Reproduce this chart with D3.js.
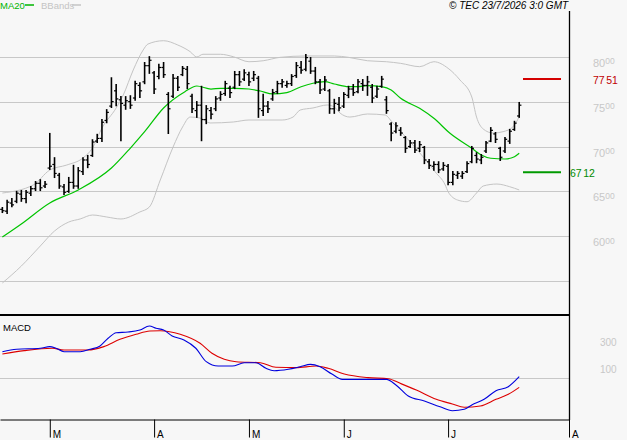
<!DOCTYPE html>
<html>
<head>
<meta charset="utf-8">
<script src="https://cdn.jsdelivr.net/npm/d3@7"></script>
<style>
  body { margin: 0; background: #f7f7f7; }
  svg { display: block; font-family: "Liberation Sans", Arial, sans-serif; }
</style>
</head>
<body>
<div id="chart-area"></div>
<script>
// daily bars, 16 Feb -> 22 Jul (index = trading day)
const highs = [6315,6395,6415,6495,6505,6505,6550,6605,6625,6605, 7140,6870,6695,6570,6650,6785,6760,6870,6895,7070,
  7130,7295,7405,7760,7685,7550,7550,7560,7720,7705, 7930,7995,7830,7910,7930,7595,7795,7775,7885,7885,
  7575,7495,7665,7450,7430,7550,7605,7720,7665,7830, 7830,7850,7820,7830,7775,7575,7495,7630,7720,7740,
  7720,7795,7930,7940,8020,7985,7875,7740,7775,7630, 7520,7540,7595,7665,7685,7740,7740,7775,7685,7665,
  7775,7550,7260,7260,7205,7105,7060,7060,7050,6995, 6850,6825,6825,6815,6795,6715,6715,6715,6825,6995,
  6925,6905,7050,7205,7150,6985,7095,7185,7275,7485];
const lows = [6270,6260,6335,6380,6395,6380,6460,6515,6515,6550, 6750,6660,6540,6470,6495,6540,6540,6695,6770,6895,
  7050,7060,7270,7440,7460,7070,7420,7430,7520,7550, 7705,7820,7595,7760,7775,7150,7550,7630,7795,7650,
  7385,7330,7070,7260,7315,7405,7520,7575,7550,7650, 7685,7740,7685,7740,7330,7350,7385,7520,7595,7665,
  7665,7685,7775,7820,7850,7820,7705,7595,7630,7375, 7375,7405,7440,7550,7575,7605,7630,7575,7495,7550,
  7665,7375,7070,7160,7130,6940,6995,6940,6950,6815, 6760,6740,6715,6740,6580,6580,6650,6650,6715,6825,
  6825,6815,6940,7060,7050,6850,6940,7040,7185,7330];
const opens = [6300,6280,6370,6390,6470,6420,6480,6530,6590,6560, 6760,6800,6680,6550,6500,6600,6560,6720,6850,6900,
  7060,7090,7290,7450,7620,7520,7460,7500,7540,7680, 7720,7900,7820,7780,7880,7580,7560,7760,7800,7860,
  7560,7400,7460,7300,7400,7420,7540,7590,7650,7660, 7800,7750,7800,7760,7760,7400,7450,7530,7610,7700,
  7680,7700,7790,7880,7860,7950,7840,7720,7640,7620, 7420,7470,7450,7570,7640,7610,7700,7680,7660,7560,
  7670,7520,7250,7170,7180,7100,7000,7040,6980,6990, 6830,6780,6800,6750,6780,6600,6680,6670,6720,6830,
  6900,6850,6950,7060,7140,6980,6950,7060,7190,7340];
const closes = [6285,6380,6350,6480,6420,6490,6530,6590,6540,6580, 6780,6700,6560,6490,6600,6560,6730,6850,6800,7050,
  7090,7270,7380,7500,7530,7480,7510,7460,7700,7620, 7900,7960,7640,7880,7800,7420,7760,7660,7870,7700,
  7420,7460,7300,7420,7360,7530,7580,7700,7600,7800, 7720,7820,7720,7800,7420,7450,7420,7600,7700,7720,
  7700,7780,7900,7850,7990,7840,7720,7630,7740,7420, 7480,7430,7580,7640,7600,7720,7680,7720,7540,7640,
  7750,7400,7150,7230,7150,6980,7040,6960,7020,6850, 6790,6800,6740,6790,6600,6690,6700,6700,6810,6980,
  6860,6880,7040,7180,7080,6880,7080,7170,7260,7460];

// overlays: [day index, value]
const ma20 = [[0,5992],[4,6137],[10,6371],[16,6516],[23,6760],[27,6983],[30,7165],[34,7429],[38.5,7610],[41,7674],
  [44,7640],[46,7648],[49,7648],[52,7640],[54.4,7618],[57,7585],[60,7600],[63,7666],[65.5,7704],[68,7722],
  [70,7696],[73,7666],[75,7666],[77,7677],[80,7666],[82,7629],[84,7537],[88,7425],[91,7314],[94.4,7147],
  [99,6980],[101,6905],[103,6869],[106,6861],[108,6886],[109,6924]];
const bbUpper = [[0,6482],[6.5,6571],[10,6738],[13.6,6794],[17,6872],[19,6983],[21,7206],[24,7429],[25.5,7574],[27.6,7852],
  [29.7,8075],[30.7,8141],[34,8178],[37,8130],[39.6,8056],[41,7997],[42.3,8027],[46,8027],[48.7,8000],[52,7944],
  [55,7955],[58.6,7993],[64,8008],[70,8008],[73,7993],[77,7955],[81,7944],[84,7926],[88,7889],[91,7944],
  [94,7871],[96.5,7741],[99,7551],[100,7328],[101.4,7195],[103.5,7150],[105.6,7165],[107.7,7220],[109,7332]];
const bbLower = [[0,5480],[4,5669],[8,5892],[11,6059],[14,6159],[16.4,6193],[19,6237],[22,6215],[25,6193],[29,6271],
  [31,6326],[33.3,6627],[36,6994],[38,7217],[39.6,7328],[41.7,7317],[43.8,7262],[48.7,7273],[52,7295],[59,7295],
  [61.3,7328],[62.8,7406],[65.5,7429],[68.5,7462],[70,7440],[71.2,7373],[73.3,7328],[77,7362],[80.7,7351],[82.2,7273],
  [84.3,7150],[87.7,6950],[91.3,6716],[93.4,6571],[94,6497],[96,6404],[98,6385],[100,6482],[101.4,6560],[104.3,6582],
  [107,6552],[109,6516]];
const macd = [[0,200],[3,218],[8,226],[10,238],[11.3,226],[13,200],[16.4,200],[18.5,218],[20.6,243],[22.3,301],
  [24,343],[26.5,348],[29,363],[31,393],[32.4,376],[34,363],[35.8,318],[38.3,288],[40.8,226],[43,125],
  [45.5,92],[48.5,92],[51,117],[53.5,117],[55.6,75],[57.3,57],[60.3,68],[62.8,87],[65,105],[67,87],
  [69.5,32],[71.7,-8],[75.5,-8],[81,-8],[83,-50],[85.6,-133],[89,-171],[92.3,-214],[94.9,-244],[97.4,-233],
  [99,-201],[101.6,-158],[104.1,-93],[106.7,-63],[109,12]];
const signal = [[0,183],[4.6,208],[10.5,226],[13,213],[18,213],[21.4,238],[24.8,293],[28.2,331],[31.1,356],[33.3,358],
  [37.5,331],[41.7,263],[44.2,188],[46.8,143],[49.3,125],[54.4,117],[57.7,83],[61.9,80],[66.2,92],[68.7,75],
  [72.1,32],[77.1,5],[81.4,-3],[83.9,-38],[87.3,-88],[91.5,-158],[94.9,-193],[97.4,-218],[100.8,-208],[104.1,-158],
  [106.7,-120],[109,-68]];

const monthTicks = [10, 32, 52, 72, 94, 119.5];
const monthLabels = ["M", "A", "M", "J", "J", "A"];
const priceGrid = [8000, 7500, 7000, 6500, 6000, 5500];
const priceLabels = [8000, 7500, 7000, 6500, 6000];
const macdLabels = [300, 100];
const resistance = 7751;
const support = 6712;

const width = 627;
const height = 440;

const svg = d3.select('#chart-area')
    .append('svg')
    .attr('width', width)
    .attr('height', height);

svg.append('rect')
    .attr('width', width)
    .attr('height', height)
    .attr('fill', '#f7f7f7');

const x = d3.scaleLinear().domain([-0.5, 119.5]).range([0, 569]);
const y = d3.scaleLinear().domain([5500, 8000]).range([281.2, 56.7]);
const yM = d3.scaleLinear().domain([0, 300]).range([378.3, 338.4]);

svg.append('clipPath').attr('id', 'clipMain')
    .append('rect').attr('x', 0).attr('y', 12).attr('width', 569).attr('height', 302);
svg.append('clipPath').attr('id', 'clipMacd')
    .append('rect').attr('x', 0).attr('y', 316).attr('width', 569).attr('height', 102);

// grid
svg.selectAll('.grid')
    .data(priceGrid)
    .enter()
    .append('line')
    .attr('x1', 0).attr('x2', 569)
    .attr('y1', d => Math.round(y(d)) + 0.5)
    .attr('y2', d => Math.round(y(d)) + 0.5)
    .attr('stroke', '#c8c8c8');

svg.append('line')
    .attr('x1', 0).attr('x2', 569)
    .attr('y1', Math.round(yM(0)) + 0.5).attr('y2', Math.round(yM(0)) + 0.5)
    .attr('stroke', '#c8c8c8');

const main = svg.append('g').attr('clip-path', 'url(#clipMain)');

const line = d3.line()
    .x(d => x(d[0]))
    .y(d => y(d[1]))
    .curve(d3.curveMonotoneX);

[bbUpper, bbLower].forEach(band => {
    main.append('path')
        .attr('d', line(band))
        .attr('fill', 'none')
        .attr('stroke', '#c4c4c4')
        .attr('stroke-width', 1);
});

main.append('path')
    .attr('d', line(ma20))
    .attr('fill', 'none')
    .attr('stroke', '#00c400')
    .attr('stroke-width', 1.2);

// OHLC bars
const bars = main.selectAll('.bar')
    .data(highs.map((h, i) => ({ i, o: opens[i], h, l: lows[i], c: closes[i] })))
    .enter()
    .append('g')
    .attr('stroke', '#000');

bars.append('line')
    .attr('x1', d => x(d.i)).attr('x2', d => x(d.i))
    .attr('y1', d => y(d.h) - 1).attr('y2', d => y(d.l) + 1)
    .attr('stroke-width', 1.6);
bars.append('line')
    .attr('x1', d => x(d.i) - 2.2).attr('x2', d => x(d.i))
    .attr('y1', d => y(d.o)).attr('y2', d => y(d.o))
    .attr('stroke-width', 1.2);
bars.append('line')
    .attr('x1', d => x(d.i)).attr('x2', d => x(d.i) + 2.2)
    .attr('y1', d => y(d.c)).attr('y2', d => y(d.c))
    .attr('stroke-width', 1.2);

// levels
svg.append('line')
    .attr('x1', 523).attr('x2', 561)
    .attr('y1', y(resistance)).attr('y2', y(resistance))
    .attr('stroke', '#d40000').attr('stroke-width', 2);
svg.append('line')
    .attr('x1', 523).attr('x2', 561)
    .attr('y1', y(support)).attr('y2', y(support))
    .attr('stroke', '#009a00').attr('stroke-width', 2);

// MACD
const macdG = svg.append('g').attr('clip-path', 'url(#clipMacd)');
const lineM = d3.line()
    .x(d => x(d[0]))
    .y(d => yM(d[1]))
    .curve(d3.curveMonotoneX);

macdG.append('path')
    .attr('d', lineM(signal))
    .attr('fill', 'none')
    .attr('stroke', '#dd0000')
    .attr('stroke-width', 1.1);
macdG.append('path')
    .attr('d', lineM(macd))
    .attr('fill', 'none')
    .attr('stroke', '#0000dd')
    .attr('stroke-width', 1.1);

// frame
svg.append('line').attr('x1', 0).attr('x2', 570).attr('y1', 315).attr('y2', 315)
    .attr('stroke', '#000').attr('stroke-width', 2);
svg.append('line').attr('x1', 569.5).attr('x2', 569.5).attr('y1', 11).attr('y2', 420)
    .attr('stroke', '#000').attr('stroke-width', 1.3);

// month axis
const xAxis = d3.axisBottom(x)
    .tickValues(monthTicks)
    .tickFormat((d, i) => monthLabels[i])
    .tickSize(18)
    .tickSizeOuter(0);
const axisG = svg.append('g')
    .attr('transform', 'translate(0, 419.5)')
    .call(xAxis);
axisG.select('.domain').attr('stroke', '#000');
axisG.selectAll('line').attr('stroke', '#000');
axisG.selectAll('text')
    .attr('x', 2.5)
    .attr('y', 11)
    .attr('text-anchor', 'start')
    .attr('fill', '#000')
    .style('font-size', '10px')
    .style('font-family', '"Liberation Sans", Arial, sans-serif');

// price labels
const pl = svg.selectAll('.plabel')
    .data(priceLabels)
    .enter()
    .append('text')
    .attr('x', 593)
    .attr('y', d => y(d) + 10)
    .attr('fill', '#c8c8c8')
    .style('font-size', '11px');
pl.append('tspan').text(d => String(d).slice(0, 2));
pl.append('tspan').attr('dy', -2.5).style('font-size', '8.5px').text(d => String(d).slice(2));

svg.selectAll('.mlabel')
    .data(macdLabels)
    .enter()
    .append('text')
    .attr('x', 600)
    .attr('y', d => yM(d) + 7.5)
    .attr('fill', '#c8c8c8')
    .style('font-size', '10px')
    .text(d => d);

const rl = svg.append('text')
    .attr('x', 593).attr('y', y(resistance) + 5)
    .attr('fill', '#c00000')
    .style('font-size', '10.5px');
rl.append('tspan').text(String(resistance).slice(0, 2));
rl.append('tspan').attr('dx', 1.5).text(String(resistance).slice(2));

const sl = svg.append('text')
    .attr('x', 570).attr('y', y(support) + 4.5)
    .attr('fill', '#008a00')
    .style('font-size', '10.5px');
sl.append('tspan').text(String(support).slice(0, 2));
sl.append('tspan').attr('dx', 1.5).text(String(support).slice(2));

// header
svg.append('text').attr('x', 0).attr('y', 8.5)
    .attr('fill', '#00b400').style('font-size', '9.5px').text('MA20');
svg.append('line').attr('x1', 25).attr('x2', 34).attr('y1', 5).attr('y2', 5)
    .attr('stroke', '#00b400').attr('stroke-width', 1.5);
svg.append('text').attr('x', 41).attr('y', 8.5)
    .attr('fill', '#c4c4c4').style('font-size', '9.5px').text('BBands');
svg.append('line').attr('x1', 72).attr('x2', 81).attr('y1', 5).attr('y2', 5)
    .attr('stroke', '#c4c4c4').attr('stroke-width', 1.5);

svg.append('text').attr('x', 449).attr('y', 9)
    .attr('fill', '#000').style('font-size', '10px').style('font-style', 'italic')
    .text('© TEC 23/7/2026 3:0 GMT');

svg.append('text').attr('x', 3).attr('y', 330.5)
    .attr('fill', '#000').style('font-size', '9.5px').text('MACD');
</script>
</body>
</html>
